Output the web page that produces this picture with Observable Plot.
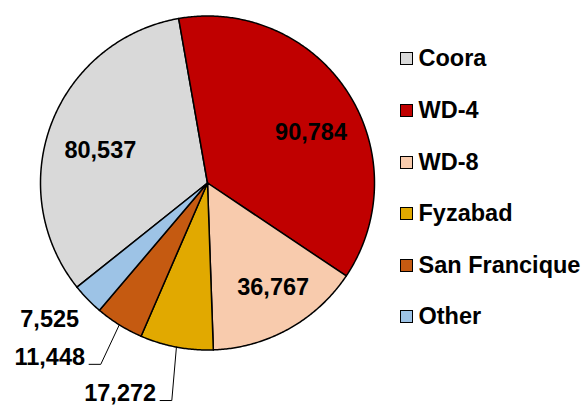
<!DOCTYPE html>
<html><head><meta charset="utf-8">
<script src="https://cdn.jsdelivr.net/npm/d3@7"></script>
<script src="https://cdn.jsdelivr.net/npm/@observablehq/plot@0.6"></script>
<style>
body{margin:0;background:#fff;font-family:"Liberation Sans",Arial,sans-serif;}
#wrap{position:relative;width:588px;height:406px;overflow:hidden;}
#legend{position:absolute;left:400px;top:33.2px;}
.row{display:flex;align-items:center;height:51.6px;font-weight:bold;font-size:23.5px;color:#000;white-space:nowrap;}
.sw{box-sizing:border-box;width:13px;height:13px;border:1.5px solid #000;margin-right:5.5px;flex:none;}
</style></head><body><div id="wrap"><div id="legend"></div></div>
<script>
const categories = ["Coora","WD-4","WD-8","Fyzabad","San Francique","Other"];
const values = [80537,90784,36767,17272,11448,7525];
const labels = ["80,537","90,784","36,767","17,272","11,448","7,525"];
const colors = ["#D9D9D9","#C00000","#F8CBAD","#E1A900","#C55A11","#9DC3E6"];

// layout parameters (not data)
const startDeg = 231.4;
const labelRadius = [0.67,0.69,0.74,1.32,1.26,1.12];
const labelTurn = [-4,7,-3,-1.4,-1.4,-2.5];
const hasLeader = [false,false,false,true,true,false];
const leaderRun = 0.07;

const rad = Math.PI/180;
const arcs = d3.pie().sort(null).value(d=>d)
  .startAngle(startDeg*rad).endAngle((startDeg+360)*rad)(values);

const slicePts = [];
arcs.forEach((a,i)=>{
  const n = Math.max(2, Math.ceil((a.endAngle-a.startAngle)/(rad/2)));
  slicePts.push({name:categories[i], x:0, y:0});
  for(let k=0;k<=n;k++){
    const t = a.startAngle+(a.endAngle-a.startAngle)*k/n;
    slicePts.push({name:categories[i], x:Math.sin(t), y:Math.cos(t)});
  }
  slicePts.push({name:categories[i], x:0, y:0});
});

const lab = arcs.map((a,i)=>{
  const mid = (a.startAngle+a.endAngle)/2;
  const ang = mid + labelTurn[i]*rad;
  const r = labelRadius[i];
  return {i, label:labels[i], mid, x:r*Math.sin(ang), y:r*Math.cos(ang), outside:r>1, leader:hasLeader[i]};
});
const inside = lab.filter(d=>!d.outside);
const outsideNoLeader = lab.filter(d=>d.outside && !d.leader);
const withLeader = lab.filter(d=>d.leader);
const leaderPts = [];
withLeader.forEach(d=>{
  leaderPts.push({k:d.i, x:Math.sin(d.mid), y:Math.cos(d.mid)});
  leaderPts.push({k:d.i, x:d.x, y:d.y});
  leaderPts.push({k:d.i, x:d.x-leaderRun, y:d.y});
});

const font = {fontFamily:'"Liberation Sans", Arial, sans-serif', fontWeight:"bold", fontSize:23.5, fill:"#000"};

const chart = Plot.plot({
  width:588, height:406, margin:0,
  x:{domain:[-1,1], range:[40,374], axis:null},
  y:{domain:[-1,1], range:[349.5,15.5], axis:null},
  color:{domain:categories, range:colors},
  style:{background:"transparent"},
  marks:[
    Plot.line(slicePts, {x:"x", y:"y", z:"name", fill:"name", stroke:"#000", strokeWidth:1.5, strokeLinejoin:"round", curve:"linear"}),
    Plot.line(leaderPts, {x:"x", y:"y", z:"k", stroke:"#000", strokeWidth:1, curve:"linear"}),
    Plot.text(inside, {x:"x", y:"y", text:"label", ...font}),
    Plot.text(outsideNoLeader, {x:"x", y:"y", text:"label", textAnchor:"end", ...font}),
    Plot.text(withLeader, {x:d=>d.x-leaderRun, y:"y", text:"label", textAnchor:"end", dx:-4, dy:-7, ...font})
  ]
});
const wrap = document.getElementById("wrap");
wrap.insertBefore(chart, wrap.firstChild);

const legend = document.getElementById("legend");
categories.forEach((c,i)=>{
  const row = document.createElement("div"); row.className="row";
  const sw = document.createElement("span"); sw.className="sw"; sw.style.background=colors[i];
  const t = document.createElement("span"); t.textContent=c;
  row.appendChild(sw); row.appendChild(t); legend.appendChild(row);
});
</script></body></html>
